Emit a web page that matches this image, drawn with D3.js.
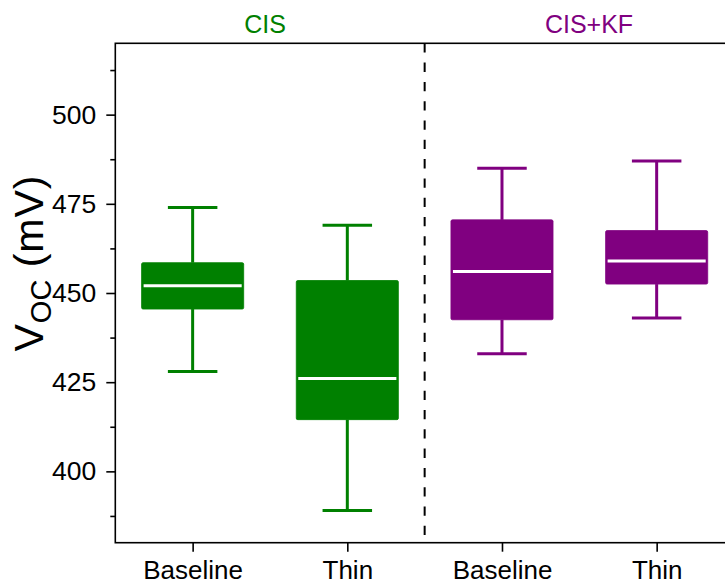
<!DOCTYPE html>
<html>
<head>
<meta charset="utf-8">
<script src="https://cdn.jsdelivr.net/npm/d3@7"></script>
<style>
  body { margin: 0; background: #fff; }
  svg { display: block; font-family: "Liberation Sans", Arial, Helvetica, sans-serif; }
</style>
</head>
<body>
<svg id="chart" width="725" height="584"></svg>
<script>
// Box statistics for each sample (mV)
const categories  = ["Baseline", "Thin", "Baseline", "Thin"];
const groups      = ["CIS", "CIS", "CIS+KF", "CIS+KF"];
const groupNames  = ["CIS", "CIS+KF"];
const whiskerLow  = [428, 389, 433, 443];
const q1          = [445.5, 414.5, 442.5, 452.5];
const median      = [452, 426, 456, 459];
const q3          = [458.5, 453.5, 470.5, 467.5];
const whiskerHigh = [474, 469, 485, 487];
const yTicks      = [400, 425, 450, 475, 500];
const yMinorTicks = [387.5, 412.5, 437.5, 462.5, 487.5, 512.5];
const groupColors = { "CIS": "#008000", "CIS+KF": "#800080" };

const svg = d3.select("#chart");

const plotLeft = 115.3, plotRight = 734, plotTop = 43.3, plotBottom = 542.7;
const x = d3.scaleLinear().domain([0.5, 4.5]).range([plotLeft, plotRight]);
const y = d3.scaleLinear().domain([380, 520]).range([plotBottom, plotTop]);

const boxW = 0.66, capW = 0.32;
const pos = categories.map((_, i) => i + 1);

// group separator
svg.append("line")
  .attr("x1", x(2.5)).attr("x2", x(2.5))
  .attr("y1", plotTop).attr("y2", plotBottom)
  .attr("stroke", "#000").attr("stroke-width", 2)
  .attr("stroke-dasharray", "9.3,10");

// boxes
const box = svg.append("g").selectAll("g").data(pos).join("g")
  .attr("fill", (d, i) => groupColors[groups[i]])
  .attr("stroke", (d, i) => groupColors[groups[i]]);

box.append("line")
  .attr("x1", d => x(d)).attr("x2", d => x(d))
  .attr("y1", (d, i) => y(whiskerHigh[i])).attr("y2", (d, i) => y(q3[i]))
  .attr("stroke-width", 3);
box.append("line")
  .attr("x1", d => x(d)).attr("x2", d => x(d))
  .attr("y1", (d, i) => y(q1[i])).attr("y2", (d, i) => y(whiskerLow[i]))
  .attr("stroke-width", 3);
box.append("line")
  .attr("x1", d => x(d - capW / 2)).attr("x2", d => x(d + capW / 2))
  .attr("y1", (d, i) => y(whiskerHigh[i])).attr("y2", (d, i) => y(whiskerHigh[i]))
  .attr("stroke-width", 3);
box.append("line")
  .attr("x1", d => x(d - capW / 2)).attr("x2", d => x(d + capW / 2))
  .attr("y1", (d, i) => y(whiskerLow[i])).attr("y2", (d, i) => y(whiskerLow[i]))
  .attr("stroke-width", 3);
box.append("rect")
  .attr("x", d => x(d - boxW / 2))
  .attr("width", d => x(d + boxW / 2) - x(d - boxW / 2))
  .attr("y", (d, i) => y(q3[i]))
  .attr("height", (d, i) => y(q1[i]) - y(q3[i]))
  .attr("rx", 1.5).attr("stroke-width", 0.8);
box.append("line")
  .attr("x1", d => x(d - boxW / 2) + 2).attr("x2", d => x(d + boxW / 2) - 2)
  .attr("y1", (d, i) => y(median[i])).attr("y2", (d, i) => y(median[i]))
  .attr("stroke", "#fff").attr("stroke-width", 3);

// y axis
const yAxis = svg.append("g").attr("transform", `translate(${plotLeft},0)`)
  .call(d3.axisLeft(y).tickValues(yTicks).tickSize(9).tickPadding(10).tickSizeOuter(0));
svg.append("g").attr("transform", `translate(${plotLeft},0)`)
  .call(d3.axisLeft(y).tickValues(yMinorTicks).tickSize(5).tickFormat("").tickSizeOuter(0))
  .call(g => g.select(".domain").remove());

// x axis
const xAxis = svg.append("g").attr("transform", `translate(0,${plotBottom})`)
  .call(d3.axisBottom(x).tickValues(pos).tickFormat((d, i) => categories[i])
    .tickSize(9).tickPadding(8.5).tickSizeOuter(0));

[yAxis, xAxis].forEach(g => {
  g.select(".domain").remove();
  g.selectAll(".tick text").attr("fill", "#000")
    .attr("font-family", "Liberation Sans, Arial, sans-serif");
});
yAxis.selectAll(".tick text").attr("font-size", 26.5);
xAxis.selectAll(".tick text").attr("font-size", 26);
svg.selectAll(".tick line").attr("stroke", "#000").attr("stroke-width", 1.6);

// frame
svg.append("rect")
  .attr("x", plotLeft).attr("y", plotTop)
  .attr("width", plotRight - plotLeft).attr("height", plotBottom - plotTop)
  .attr("fill", "none").attr("stroke", "#000").attr("stroke-width", 1.6);

// group titles
const titleX = [265, 589];
svg.append("g").selectAll("text").data(groupNames).join("text")
  .attr("x", (d, i) => titleX[i]).attr("y", 33)
  .attr("text-anchor", "middle").attr("font-size", 25)
  .attr("fill", d => groupColors[d])
  .text(d => d);

// y axis title
const yt = svg.append("text")
  .attr("transform", "translate(43,263) rotate(-90)")
  .attr("text-anchor", "middle").attr("font-size", 41).attr("fill", "#000");
yt.append("tspan").text("V");
yt.append("tspan").attr("font-size", 29).attr("dx", 1).attr("dy", 8).text("OC");
yt.append("tspan").attr("dy", -8).attr("letter-spacing", 1).text(" (mV)");
</script>
</body>
</html>
